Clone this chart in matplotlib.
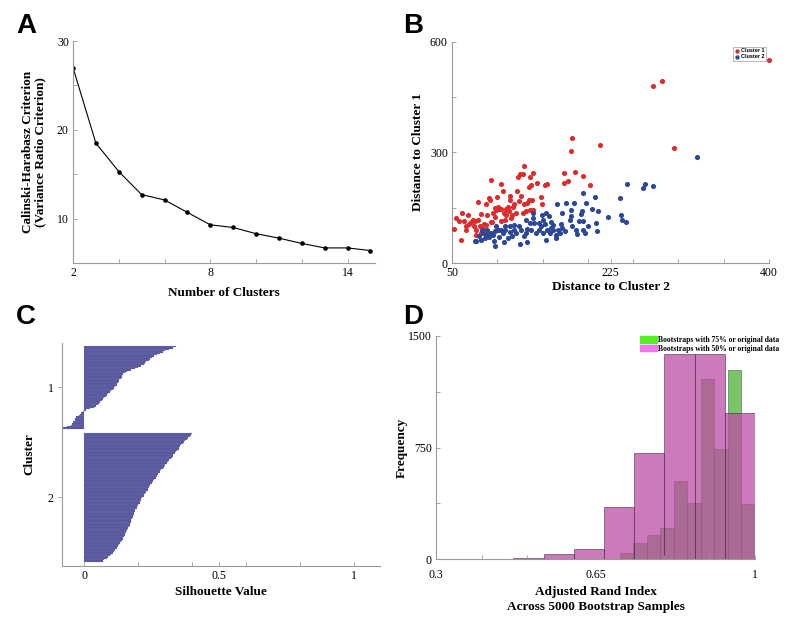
import numpy as np
import matplotlib
matplotlib.use("Agg")
import matplotlib.pyplot as plt
from matplotlib.patches import Patch

# ---- panel A: Calinski-Harabasz criterion ----
n_clusters = [2, 3, 4, 5, 6, 7, 8, 9, 10, 11, 12, 13, 14, 15]
ch_values = [27.0, 18.5, 15.3, 12.7, 12.1, 10.7, 9.3, 9.0, 8.3, 7.8, 7.2, 6.7, 6.7, 6.4]

# ---- panel B: distances (x = to cluster 2, y = to cluster 1) ----
red_x = [400, 272, 282, 295, 183, 181, 213, 186, 174, 178, 174, 195, 202,
         130, 128, 125, 139, 123, 136, 153, 155, 93, 104, 137, 135,
         52, 54, 60, 61, 63, 65, 66, 69, 71, 73, 74, 75, 77, 79, 79, 81,
         82, 84, 85, 88, 89, 91, 92, 93, 94, 95, 97, 98, 99, 101, 102,
         104, 104, 106, 107, 109, 110, 110, 112, 114, 114, 113, 115, 117,
         119, 121, 124, 126, 128, 129, 132, 133, 135, 136, 138, 139, 148,
         149, 58, 68, 82, 87, 100, 116, 122, 144, 90, 76]
red_y = [550, 481, 494, 313, 338, 304, 320, 248, 244, 223, 216, 235, 212,
         262, 241, 241, 244, 233, 233, 211, 213, 226, 215, 212, 206,
         92, 122, 63, 135, 114, 90, 99, 106, 110, 117, 99, 113, 90, 117, 166, 99,
         81, 92, 106, 104, 131, 176, 171, 110, 110, 135, 126, 149, 144, 153, 146,
         113, 146, 194, 135, 117, 131, 146, 153, 171, 182, 140, 122, 153,
         161, 135, 167, 182, 135, 161, 140, 164, 170, 144, 171, 144, 180,
         161, 113, 131, 133, 161, 180, 131, 194, 216, 81, 77]
blue_x = [320, 243, 263, 261, 272, 235, 195, 208, 237, 238, 242, 222, 211,
          209, 210, 205, 198, 194, 192, 195, 200, 195, 187, 176, 185, 166,
          181, 172, 181, 180, 170, 172, 169, 165, 161, 159, 157, 154, 149,
          150, 148, 146, 143, 141, 139, 136, 133, 132, 130, 126, 124, 121,
          118, 116, 114, 112, 109, 108, 106, 102, 101, 99, 97, 96, 93, 91,
          89, 88, 86, 84, 82, 80, 77, 75, 97, 107, 125, 133, 154, 165, 151,
          137, 132, 139, 159, 167, 175, 183, 190, 188, 197, 155, 158, 161,
          153, 146, 118, 114, 104, 95, 83]
blue_y = [288, 214, 214, 203, 208, 176, 191, 179, 131, 117, 110, 126, 142,
          108, 86, 146, 162, 140, 134, 113, 99, 90, 90, 162, 164, 161,
          144, 135, 128, 117, 106, 95, 81, 77, 90, 110, 128, 135, 131,
          117, 99, 90, 81, 108, 122, 108, 92, 81, 72, 90, 99, 81,
          90, 72, 83, 68, 90, 99, 81, 70, 90, 99, 86, 61, 81, 70,
          90, 77, 68, 81, 63, 74, 59, 59, 47, 56, 52, 56, 63, 68, 81,
          90, 117, 135, 95, 90, 88, 99, 113, 79, 81, 90, 81, 104,
          106, 108, 104, 99, 90, 77, 90]

# ---- panel C: silhouette values (sorted, per cluster) ----
sil_c1 = [0.34, 0.33, 0.315, 0.30, 0.29, 0.28, 0.27, 0.26, 0.25, 0.245,
          0.24, 0.23, 0.225, 0.22, 0.21, 0.20, 0.19, 0.175, 0.16, 0.15,
          0.145, 0.14, 0.14, 0.135, 0.13, 0.13, 0.125, 0.12, 0.12, 0.115,
          0.11, 0.105, 0.10, 0.095, 0.09, 0.085, 0.08, 0.075, 0.07, 0.065,
          0.06, 0.055, 0.05, 0.045, 0.035, 0.02, 0.005, -0.005, -0.01, -0.015,
          -0.02, -0.03, -0.035, -0.035, -0.04, -0.04, -0.045, -0.05, -0.065, -0.08]
sil_c2 = [0.40, 0.395, 0.39, 0.385, 0.38, 0.375, 0.37,
          0.365, 0.36, 0.355, 0.35, 0.35, 0.345, 0.34, 0.335, 0.33, 0.33,
          0.325, 0.32, 0.315, 0.31, 0.305, 0.30, 0.30, 0.295, 0.29, 0.285,
          0.28, 0.28, 0.275, 0.27, 0.27, 0.265, 0.26, 0.255, 0.25, 0.25,
          0.245, 0.24, 0.24, 0.235, 0.235, 0.23, 0.225, 0.22, 0.22, 0.215,
          0.21, 0.21, 0.205, 0.205, 0.20, 0.20, 0.195, 0.195, 0.19, 0.19,
          0.185, 0.185, 0.18, 0.18, 0.178, 0.175, 0.175, 0.172, 0.17, 0.168,
          0.165, 0.163, 0.16, 0.158, 0.155, 0.153, 0.15, 0.148, 0.145, 0.142,
          0.14, 0.137, 0.134, 0.13, 0.127, 0.123, 0.12, 0.115, 0.11, 0.106,
          0.10, 0.095, 0.09, 0.083, 0.075, 0.068]

# ---- panel D: bootstrap ARI histograms ----
edges_50 = [0.337, 0.403, 0.470, 0.536, 0.602, 0.669, 0.735, 0.801, 0.868, 0.934, 1.0]
counts_50 = [3, 1, 9, 36, 67, 347, 712, 1380, 1380, 980]
edges_75 = [0.703, 0.733, 0.762, 0.792, 0.822, 0.851, 0.881, 0.911, 0.941, 0.970, 1.0]
counts_75 = [40, 107, 163, 208, 526, 376, 1211, 739, 1272, 372]

W, H = 787, 619
serif = "Liberation Serif"
axcol = "#9a9a9a"


def px_axes(fig, l, t, r, b):
    return fig.add_axes([l / W, (H - b) / H, (r - l) / W, (b - t) / H])


def style(ax):
    for s in ["top", "right"]:
        ax.spines[s].set_visible(False)
    for s in ["left", "bottom"]:
        ax.spines[s].set_color(axcol)
        ax.spines[s].set_linewidth(0.8)
    ax.tick_params(which="both", direction="in", length=3, width=0.6,
                   color=axcol, labelsize=8.5, pad=3)
    for lab in ax.get_xticklabels() + ax.get_yticklabels():
        lab.set_fontfamily(serif)


fig = plt.figure(figsize=(W / 100, H / 100), dpi=100)
lab_kw = dict(fontfamily=serif, fontweight="bold", fontsize=9.5)
letter_kw = dict(fontfamily="Liberation Sans", fontweight="bold", fontsize=20)

# A
ax = px_axes(fig, 73, 41, 375, 263)
ax.plot(n_clusters, ch_values, color="black", lw=0.8, marker="o", ms=2.3)
ax.set_xlim(2, 15.2)
ax.set_ylim(5, 30)
ax.set_xticks([2, 8, 14])
ax.set_xticks(np.arange(2, 16, 2), minor=True)
ax.set_yticks([10, 20, 30])
ax.set_yticks([15, 25], minor=True)
style(ax)
ax.set_xlabel("Number of Clusters", labelpad=6, **lab_kw)
ax.set_ylabel("Calinski-Harabasz Criterion\n(Variance Ratio Criterion)",
              labelpad=8, linespacing=1.0, **lab_kw)

# B
ax = px_axes(fig, 452, 41.7, 769, 263)
ax.scatter(red_x, red_y, s=7, color="#e02a2a", label="Cluster 1", zorder=3,
           clip_on=False)
ax.scatter(blue_x, blue_y, s=7, color="#2b4799", label="Cluster 2", zorder=3,
           clip_on=False)
ax.set_xlim(50, 400)
ax.set_ylim(0, 600)
ax.set_xticks([50, 225, 400])
ax.set_xticks(np.arange(50, 401, 50), minor=True)
ax.set_yticks([0, 300, 600])
ax.set_yticks([150, 450], minor=True)
style(ax)
ax.set_xlabel("Distance to Cluster 2", labelpad=1, **lab_kw)
ax.set_ylabel("Distance to Cluster 1", labelpad=4, **lab_kw)
leg = ax.legend(loc="upper right", bbox_to_anchor=(1.0, 0.99),
                prop={"family": "Liberation Sans", "size": 4, "weight": "bold"},
                frameon=True, fancybox=False, edgecolor="#888888",
                handletextpad=0.2, borderpad=0.3, labelspacing=0.2,
                markerscale=0.8, handlelength=1.0)
leg.get_frame().set_linewidth(0.5)

# C
ax = px_axes(fig, 62, 343, 380, 566)
n1, n2 = len(sil_c1), len(sil_c2)
gap = 3
pos1 = np.arange(1, n1 + 1)
pos2 = np.arange(n1 + gap + 1, n1 + gap + n2 + 1)
ax.barh(pos1, sil_c1, height=1.0, color="#55559c", edgecolor="#8080b8", lw=0.12)
ax.barh(pos2, sil_c2, height=1.0, color="#55559c", edgecolor="#8080b8", lw=0.12)
ax.set_ylim(pos2[-1] + 3.5, -1.5)
ax.set_xlim(-0.082, 1.095)
ax.set_yticks([pos1.mean(), pos2.mean()])
ax.set_yticklabels(["1", "2"])
ax.set_xticks([0, 0.5, 1])
ax.set_xticklabels(["0", "0.5", "1"])
ax.set_xticks([0.2, 0.4, 0.6, 0.8], minor=True)
style(ax)
ax.tick_params(axis="y", direction="out", length=3)
ax.set_xlabel("Silhouette Value", labelpad=3, **lab_kw)
ax.set_ylabel("Cluster", labelpad=9, **lab_kw)

# D
ax = px_axes(fig, 436, 336, 755, 559)
green = "#1ea300"
magenta = "#bb4ea4"
ax.bar(edges_75[:-1], counts_75, width=np.diff(edges_75), align="edge",
       color=green, alpha=0.6, edgecolor="#3a2040", lw=0.5)
ax.bar(edges_50[:-1], counts_50, width=np.diff(edges_50), align="edge",
       color=magenta, alpha=0.75, edgecolor="#3a2040", lw=0.5)
ax.set_xlim(0.3, 1.0)
ax.set_ylim(0, 1500)
ax.set_xticks([0.3, 0.65, 1])
ax.set_xticklabels(["0.3", "0.65", "1"])
ax.set_xticks(np.arange(0.3, 1.01, 0.1), minor=True)
ax.set_yticks([0, 750, 1500])
ax.set_yticks([375, 1125], minor=True)
style(ax)
ax.tick_params(axis="x", pad=7)
ax.set_xlabel("Adjusted Rand Index\nAcross 5000 Bootstrap Samples",
              labelpad=4, linespacing=1.3, **lab_kw)
ax.set_ylabel("Frequency", labelpad=0, **lab_kw)
handles = [Patch(color="#55ee22"), Patch(color="#ee77ee")]
ax.legend(handles, ["Bootstraps with 75% or original data",
                    "Bootstraps with 50% or original data"],
          loc="upper right", bbox_to_anchor=(1.09, 1.02), frameon=False,
          prop={"family": serif, "size": 5.5, "weight": "bold"},
          handlelength=2.2, handleheight=0.9, handletextpad=0.1,
          labelspacing=0.05, borderpad=0.1)

# panel letters
fig.text(16 / W, 1 - 33 / H, "A", **letter_kw)
fig.text(403 / W, 1 - 33 / H, "B", **letter_kw)
fig.text(16 / W, 1 - 324 / H, "C", **letter_kw)
fig.text(403 / W, 1 - 324 / H, "D", **letter_kw)

fig.savefig("out.png", dpi=100)
